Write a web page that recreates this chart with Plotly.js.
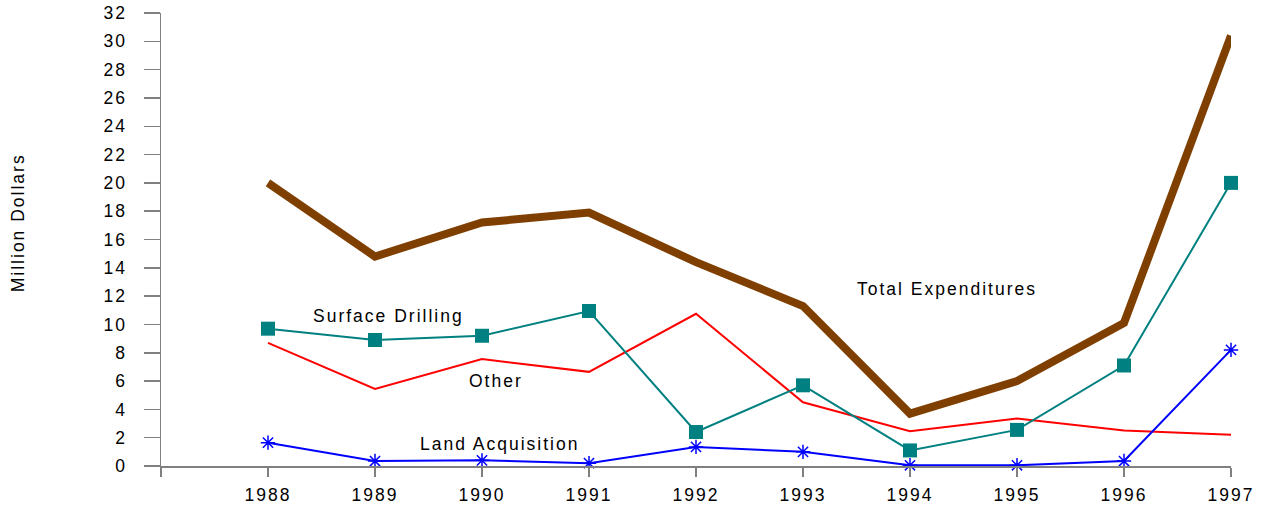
<!DOCTYPE html>
<html>
<head>
<meta charset="utf-8">
<script src="https://cdn.plot.ly/plotly-3.0.1.min.js"></script>
<style>
html,body{margin:0;padding:0;background:#fff;}
#chart{width:1265px;height:508px;}
#chart svg text{letter-spacing:2px;}
</style>
</head>
<body>
<div id="chart"></div>
<script>
const years = ["1988","1989","1990","1991","1992","1993","1994","1995","1996","1997"];
const totalExpenditures = [20.0, 14.8, 17.2, 17.9, 14.4, 11.3, 3.7, 6.0, 10.1, 30.4];
const surfaceDrilling = [9.7, 8.9, 9.2, 10.95, 2.4, 5.7, 1.1, 2.55, 7.1, 20.0];
const other = [8.7, 5.45, 7.55, 6.65, 10.75, 4.5, 2.45, 3.35, 2.5, 2.2];
const landAcquisition = [1.65, 0.35, 0.4, 0.2, 1.35, 1.0, 0.05, 0.05, 0.35, 8.2];
const yTicks = [0,2,4,6,8,10,12,14,16,18,20,22,24,26,28,30,32];

const idx = years.map((y, i) => i);
const font = {family: "Liberation Sans, Arial, sans-serif", size: 17.5, color: "#000"};

const traces = [
  {x: idx, y: other, type: "scatter", mode: "lines", line: {color: "#ff0000", width: 2}, cliponaxis: false},
  {x: idx, y: landAcquisition, type: "scatter", mode: "lines+markers", line: {color: "#0000ff", width: 2},
   marker: {symbol: "asterisk-open", size: 12, line: {color: "#0000ff", width: 1.5}}, cliponaxis: false},
  {x: idx, y: surfaceDrilling, type: "scatter", mode: "lines+markers", line: {color: "#008080", width: 2},
   marker: {symbol: "square", size: 14, color: "#008080"}, cliponaxis: false},
  {x: idx, y: totalExpenditures, type: "scatter", mode: "lines", line: {color: "#7f3f00", width: 8}, cliponaxis: false}
];

const layout = {
  width: 1265, height: 508,
  margin: {l: 161, r: 34, t: 13, b: 42},
  paper_bgcolor: "#fff", plot_bgcolor: "#fff",
  showlegend: false,
  font: font,
  xaxis: {
    range: [-1, 9], tickmode: "array",
    tickvals: [-1].concat(idx), ticktext: [""].concat(years),
    showgrid: false, zeroline: false,
    showline: true, linecolor: "#808080", linewidth: 1.5,
    ticks: "outside", ticklen: 9, tickcolor: "#808080", tickwidth: 1.5,
    ticklabelstandoff: 3,
    tickfont: font, fixedrange: true
  },
  yaxis: {
    range: [0, 32], tickmode: "array", tickvals: yTicks,
    showgrid: false, zeroline: false,
    showline: true, linecolor: "#808080", linewidth: 1.5,
    ticks: "outside", ticklen: 16, tickcolor: "#808080", tickwidth: 1.5,
    ticklabelstandoff: 13,
    tickfont: font, fixedrange: true
  },
  annotations: [
    {text: "Million Dollars", xref: "paper", yref: "paper", x: -0.1336, y: 0.536, textangle: -90,
     showarrow: false, font: font, xanchor: "center", yanchor: "middle"},
    {text: "Total Expenditures", xref: "x", yref: "y", x: 6.35, y: 12.5, showarrow: false, font: font},
    {text: "Surface Drilling", xref: "x", yref: "y", x: 1.13, y: 10.6, showarrow: false, font: font},
    {text: "Other", xref: "x", yref: "y", x: 2.13, y: 6.0, showarrow: false, font: font},
    {text: "Land Acquisition", xref: "x", yref: "y", x: 2.16, y: 1.55, showarrow: false, font: font}
  ]
};

Plotly.newPlot("chart", traces, layout, {displayModeBar: false, staticPlot: true});
</script>
</body>
</html>
